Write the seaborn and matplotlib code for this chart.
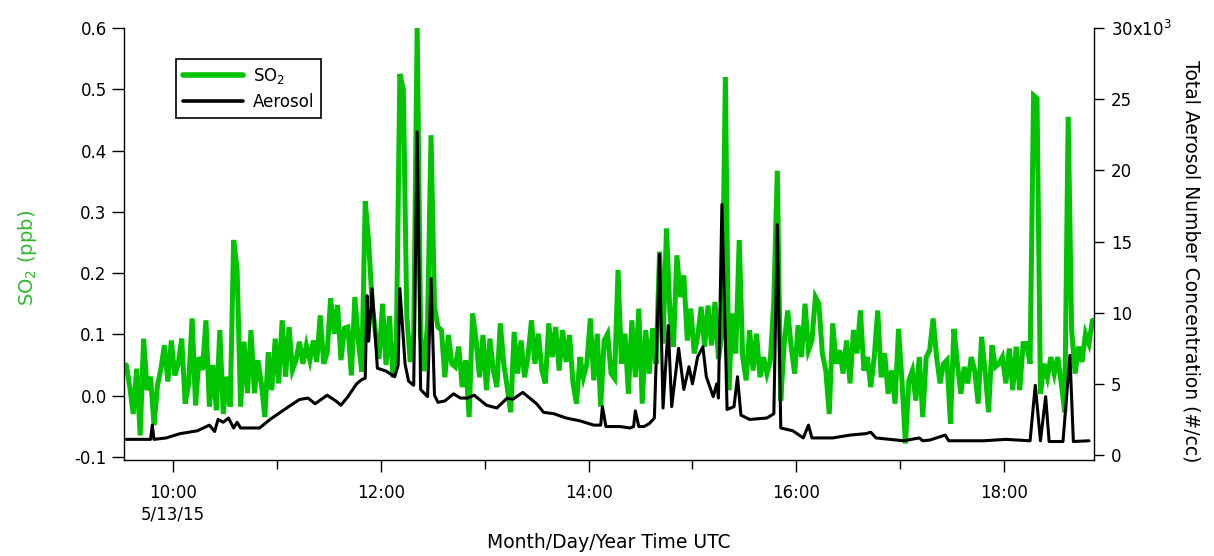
import matplotlib
matplotlib.use("Agg")
import matplotlib.pyplot as plt
import pandas as pd
import seaborn as sns
from matplotlib.lines import Line2D

# ---------------- data ----------------
DAY = "2015-05-13"
so2_start = "09:33"          # first SO2 sample
so2_step = "2min"            # SO2 sampling interval
so2_ppb = [
    0.05, 0.014, -0.03, 0.044, -0.065, 0.093, 0.009, 0.031, -0.048, 0.017,
    0.044, 0.082, 0.023, 0.09, 0.033, 0.052, 0.093, -0.013, 0.02, 0.126,
    -0.016, 0.063, 0.042, 0.123, -0.018, 0.05, -0.024, 0.107, -0.03, 0.031,
    -0.018, 0.254, 0.205,
    -0.018, 0.088, 0.004, 0.107, 0.004, 0.058, 0.02, -0.035, 0.071, 0.009,
    0.093, 0.02, 0.123, 0.031, 0.112, 0.042, 0.058, 0.088, 0.052, 0.082,
    0.058, 0.09, 0.055, 0.131, 0.052, 0.07, 0.159, 0.101, 0.148, 0.058,
    0.11, 0.112, 0.033, 0.161, 0.09, 0.039,
    0.317, 0.25,
    0.15, 0.10, 0.06, 0.15, 0.05, 0.13, 0.03, 0.09,
    0.525, 0.50, 0.13, 0.055, 0.10, 0.60, 0.10, 0.04, 0.12, 0.425,
    0.145, 0.112, 0.107, 0.03, 0.099, 0.052, 0.047, 0.08, 0.014, 0.058,
    -0.035, 0.134, 0.09, 0.03, 0.099, 0.009, 0.093, 0.041, 0.014, 0.118,
    0.052, 0.014, -0.027, 0.104, 0.036, 0.09, 0.03, 0.063, 0.123, 0.052,
    0.101, 0.041, 0.02, 0.118, 0.063, 0.112, 0.041, 0.107, 0.055, 0.099,
    0.02, -0.013, 0.063, 0.03, 0.052, 0.126, 0.025, 0.101, -0.018, 0.09,
    0.101, 0.036, 0.028, 0.205,
    0.052, 0.101, 0.003, 0.123, 0.03, 0.142, -0.013, 0.107, 0.036, 0.11,
    0.052, 0.235, 0.085, 0.273,
    0.134, 0.08, 0.229, 0.161, 0.196, 0.09, 0.142, 0.069, 0.096, 0.145,
    0.08, 0.147, 0.082, 0.153, 0.06, 0.10, 0.52,
    0.009, 0.134, 0.069, 0.254, 0.063, 0.025, 0.107, 0.041, 0.101, 0.03,
    0.063, 0.036, 0.058, 0.156, 0.367,
    -0.008, 0.085, 0.139, 0.08, 0.036, 0.115, 0.063, 0.15, 0.074, 0.09,
    0.161, 0.15, 0.069, 0.041, -0.03, 0.118, 0.052, 0.074, 0.036, 0.09,
    0.02, 0.107, 0.069, 0.139, 0.041,
    0.063, 0.014, 0.063, 0.139, 0.03, 0.069, 0.003, 0.041, -0.013, 0.109,
    0.025, -0.078, 0.025, 0.041, -0.008, 0.063, -0.035, 0.063, 0.074, 0.126,
    0.063, 0.02, 0.052, 0.058, -0.046, 0.109, 0.052, 0.003, 0.047, 0.02,
    0.063, 0.041, -0.013, 0.096, 0.041, -0.027, 0.082, 0.047, 0.052, 0.063,
    0.02, 0.077, 0.009, 0.08, 0.009, 0.085, 0.085, 0.052,
    0.49, 0.485,
    0.003, 0.052, 0.03, 0.063, 0.036, 0.063, 0.02, -0.027, 0.455,
    0.107, 0.036, 0.08, 0.055, 0.101, 0.085, 0.123,
]

aerosol_time = [
    "09:33", "09:47", "09:48", "09:49", "09:56", "10:04", "10:14", "10:21",
    "10:24", "10:26", "10:29", "10:32", "10:35", "10:37", "10:39", "10:50",
    "10:56", "11:02", "11:08", "11:13", "11:18", "11:22", "11:29", "11:34",
    "11:37", "11:41", "11:46", "11:49", "11:51", "11:52", "11:53", "11:55",
    "11:58", "12:03", "12:08", "12:10", "12:11", "12:14", "12:16", "12:19",
    "12:21", "12:23", "12:27", "12:29", "12:31", "12:33", "12:37", "12:42",
    "12:46", "12:50", "12:54", "13:01", "13:07", "13:13", "13:16", "13:22",
    "13:26", "13:30", "13:34", "13:40", "13:47", "13:55", "14:03", "14:07",
    "14:08", "14:10", "14:18", "14:24", "14:26", "14:27", "14:29", "14:32",
    "14:35", "14:38", "14:41", "14:43", "14:46", "14:48", "14:52", "14:55",
    "14:58", "15:00", "15:03", "15:06", "15:08", "15:12", "15:14", "15:15",
    "15:17", "15:20", "15:24", "15:26", "15:28", "15:33", "15:43", "15:47",
    "15:49", "15:51", "15:58", "16:04", "16:07", "16:09", "16:21", "16:31",
    "16:40", "16:43", "16:46", "17:02", "17:11", "17:13", "17:17", "17:26",
    "17:28", "17:48", "18:01", "18:15", "18:18", "18:21", "18:24", "18:26",
    "18:34", "18:38", "18:40", "18:49",
]
aerosol_k = [
    1.1, 1.1, 2.1, 1.1, 1.2, 1.5, 1.7, 2.1,
    1.65, 2.5, 2.3, 2.6, 1.9, 2.3, 1.9, 1.9,
    2.5, 3.0, 3.5, 3.9, 4.0, 3.6, 4.2, 3.8,
    3.5, 4.1, 5.0, 5.3, 5.4, 11.2, 8.0, 11.7,
    6.1, 5.9, 5.5, 6.3, 11.7, 6.4, 5.2, 4.9,
    22.7, 4.6, 4.1, 12.4, 4.2, 3.7, 3.8, 4.3,
    4.0, 4.0, 4.2, 3.5, 3.3, 4.0, 3.9, 4.4,
    4.0, 3.6, 3.0, 2.9, 2.6, 2.4, 2.1, 2.1,
    3.4, 2.0, 2.0, 1.9, 2.0, 3.1, 2.0, 2.0,
    2.2, 2.6, 14.1, 3.3, 9.1, 3.4, 7.5, 4.6,
    6.2, 5.0, 6.9, 7.6, 5.5, 4.1, 5.0, 4.0,
    17.6, 3.2, 3.4, 5.5, 2.8, 2.5, 2.6, 2.9,
    16.2, 1.9, 1.7, 1.2, 2.1, 1.2, 1.2, 1.4,
    1.5, 1.6, 1.2, 1.0, 1.2, 1.0, 1.05, 1.4,
    1.0, 1.0, 1.1, 1.0, 4.9, 1.0, 4.1, 0.95,
    0.95, 7.0, 0.95, 1.0,
]

x_major = ["10:00", "12:00", "14:00", "16:00", "18:00"]
x_major_labels = ["10:00\n5/13/15", "12:00", "14:00", "16:00", "18:00"]
x_minor = ["11:00", "13:00", "15:00", "17:00"]
x_limits = ["09:31:40", "18:51:55"]
so2_ticks = [-0.1, 0.0, 0.1, 0.2, 0.3, 0.4, 0.5, 0.6]
so2_tick_labels = ["-0.1", "0.0", "0.1", "0.2", "0.3", "0.4", "0.5", "0.6"]
aer_ticks = [0, 5000, 10000, 15000, 20000, 25000, 30000]
aer_tick_labels = ["0", "5", "10", "15", "20", "25", "30x10$^3$"]

# ---------------- build frames ----------------
def ts(hhmm):
    return pd.Timestamp(f"{DAY} {hhmm}")

so2_df = pd.DataFrame({
    "time": pd.date_range(ts(so2_start), periods=len(so2_ppb), freq=so2_step),
    "so2": so2_ppb,
})
aer_df = pd.DataFrame({
    "time": [ts(t) for t in aerosol_time],
    "aer": [v * 1000 for v in aerosol_k],
})

# ---------------- style ----------------
sns.set_style("ticks")
plt.rcParams["font.family"] = ["DejaVu Sans"]
plt.rcParams.update({
    "axes.linewidth": 1.0,
    "axes.edgecolor": "black",
    "axes.labelcolor": "black",
    "text.color": "black",
    "xtick.color": "black",
    "ytick.color": "black",
})

GREEN = "#00c400"
LABEL_GREEN = "#2eb82e"

fig = plt.figure(figsize=(12.14, 5.56), dpi=100)
ax1 = fig.add_axes([124 / 1214, 96 / 556, 970 / 1214, 432 / 556])
ax2 = ax1.twinx()

sns.lineplot(data=so2_df, x="time", y="so2", ax=ax1, color=GREEN,
             linewidth=3.6, sort=False, legend=False)
sns.lineplot(data=aer_df, x="time", y="aer", ax=ax2, color="black",
             linewidth=2.2, sort=False, legend=False)
for ln in ax1.get_lines():
    ln.set_solid_joinstyle("miter")

ax1.set_xlim(ts(x_limits[0]), ts(x_limits[1]))
ax1.set_ylim(-0.105, 0.6)
ax2.set_ylim(-350, 30000)

ax1.set_xticks([ts(t) for t in x_major])
ax1.set_xticklabels(x_major_labels, fontsize=12)
ax1.set_xticks([ts(t) for t in x_minor], minor=True)
ax1.set_yticks(so2_ticks)
ax1.set_yticklabels(so2_tick_labels, fontsize=12)
ax2.set_yticks(aer_ticks)
ax2.set_yticklabels(aer_tick_labels, fontsize=12)

ax1.tick_params(axis="x", which="major", direction="out", length=8.5, width=1,
                pad=9, colors="black")
ax1.tick_params(axis="x", which="minor", direction="out", length=6.5, width=1,
                colors="black")
ax1.tick_params(axis="y", direction="out", length=8.5, width=1, pad=4,
                colors="black")
ax2.tick_params(axis="y", direction="out", length=7, width=1, pad=5,
                colors="black")

for ax in (ax1, ax2):
    ax.spines["top"].set_visible(False)
    for sp in ax.spines.values():
        sp.set_color("black")
ax1.spines["right"].set_visible(False)
ax2.spines["left"].set_visible(False)
ax2.spines["bottom"].set_visible(False)

ax1.set_xlabel("Month/Day/Year Time UTC", fontsize=13.5, color="black")
ax1.xaxis.label.set(va="center", ha="center")
ax1.xaxis.set_label_coords(0.5, -0.19)

ax1.set_ylabel("SO$_2$ (ppb)", fontsize=14, color=LABEL_GREEN)
ax1.yaxis.label.set(va="center", ha="center")
ax1.yaxis.set_label_coords(-0.099, 0.468)

ax2.set_ylabel("Total Aerosol Number Concentration (#/cc)", fontsize=13.5,
               rotation=270, color="black")
ax2.yaxis.label.set(va="center", ha="center")
ax2.yaxis.set_label_coords(1.1, 0.46)

handles = [Line2D([], [], color=GREEN, linewidth=4.0),
           Line2D([], [], color="black", linewidth=2.6)]
leg = ax2.legend(handles, ["SO$_2$", "Aerosol"], loc="upper left",
                 bbox_to_anchor=(0.0536, 0.928), borderaxespad=0,
                 frameon=True, fancybox=False, edgecolor="black",
                 framealpha=1, fontsize=12, handlelength=3.6,
                 handletextpad=0.6, labelspacing=0.45, borderpad=0.4)
leg.get_frame().set_linewidth(1.2)
for t in leg.get_texts():
    t.set_color("black")

fig.savefig("out.png", dpi=100)
